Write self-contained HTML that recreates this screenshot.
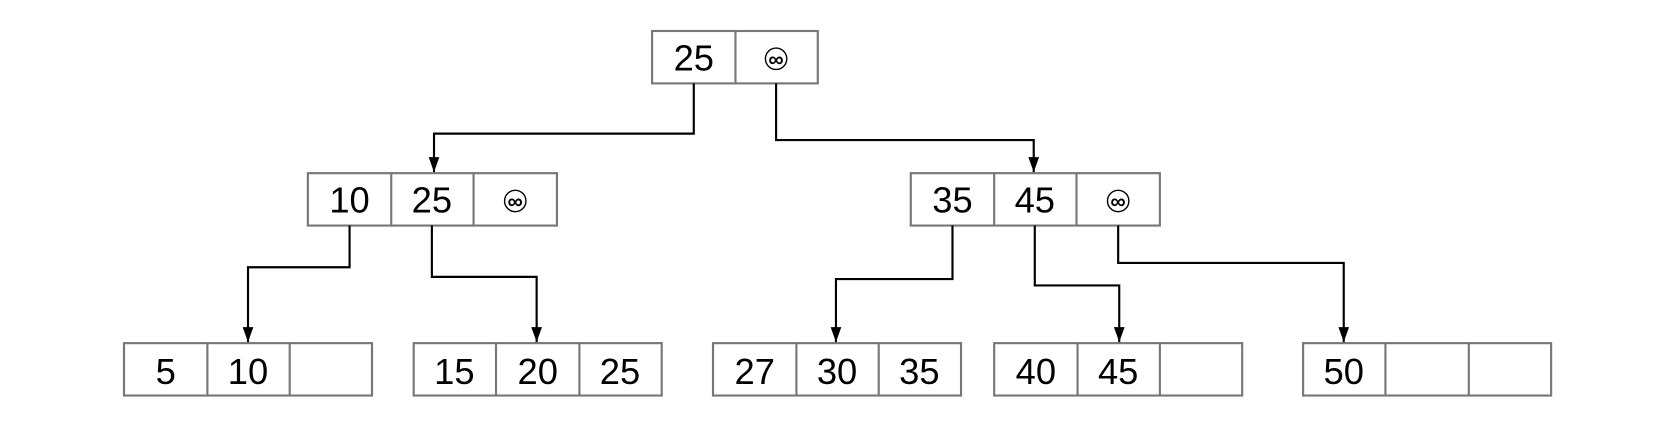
<!DOCTYPE html>
<html><head><style>
body{margin:0;width:1676px;height:436px;background:#fff;overflow:hidden}
</style></head><body>
<svg width="1676" height="436" xmlns="http://www.w3.org/2000/svg" font-family="Liberation Sans, sans-serif">
<defs>
<marker id="b" viewBox="0 0 10 14" markerWidth="10" markerHeight="14" refX="5" refY="14" orient="0" markerUnits="userSpaceOnUse"><path d="M0,0 L10,0 L5,14 Z" fill="#000"/></marker></defs>
<g transform="scale(1.069)">
<g fill="#fff" stroke="#777" stroke-width="2">
<rect x="610" y="29" width="155" height="49"/><line x1="688" y1="29" x2="688" y2="78"/>
<rect x="288" y="162" width="233" height="49"/><line x1="366" y1="162" x2="366" y2="211"/><line x1="443" y1="162" x2="443" y2="211"/>
<rect x="852" y="162" width="233" height="49"/><line x1="930" y1="162" x2="930" y2="211"/><line x1="1007" y1="162" x2="1007" y2="211"/>
<rect x="116" y="321" width="232" height="49"/><line x1="194" y1="321" x2="194" y2="370"/><line x1="271" y1="321" x2="271" y2="370"/>
<rect x="387" y="321" width="232" height="49"/><line x1="464" y1="321" x2="464" y2="370"/><line x1="542" y1="321" x2="542" y2="370"/>
<rect x="667" y="321" width="232" height="49"/><line x1="745" y1="321" x2="745" y2="370"/><line x1="822" y1="321" x2="822" y2="370"/>
<rect x="930" y="321" width="232" height="49"/><line x1="1008" y1="321" x2="1008" y2="370"/><line x1="1085" y1="321" x2="1085" y2="370"/>
<rect x="1219" y="321" width="232" height="49"/><line x1="1296" y1="321" x2="1296" y2="370"/><line x1="1374" y1="321" x2="1374" y2="370"/>
</g>
<g fill="none" stroke="#000" stroke-width="2" marker-end="url(#b)">
<polyline points="649,78 649,125 406,125 406,161"/>
<polyline points="726,78 726,131 967,131 967,161"/>
<polyline points="327,211 327,250 232,250 232,320"/>
<polyline points="404,211 404,259 502,259 502,320"/>
<polyline points="891,211 891,261 782,261 782,320"/>
<polyline points="968,211 968,267 1047,267 1047,320"/>
<polyline points="1046,211 1046,246 1257,246 1257,320"/>
</g>
<g font-size="34" text-anchor="middle" fill="#000">
<text x="649" y="66">25</text>
<text x="327" y="199">10</text><text x="404" y="199">25</text>
<text x="891" y="199">35</text><text x="968" y="199">45</text>
<text x="155" y="359">5</text><text x="232" y="359">10</text>
<text x="425" y="359">15</text><text x="503" y="359">20</text><text x="580" y="359">25</text>
<text x="706" y="359">27</text><text x="783" y="359">30</text><text x="860" y="359">35</text>
<text x="969" y="359">40</text><text x="1046" y="359">45</text>
<text x="1257" y="359">50</text>
</g>
<g fill="none" stroke="#000" stroke-width="1.3">
<circle cx="726" cy="55" r="10"/><circle cx="482" cy="188" r="10"/><circle cx="1046" cy="188" r="10"/>
</g>
<g font-size="20" text-anchor="middle" fill="#000" font-weight="bold">
<text x="726" y="62">∞</text><text x="482" y="195">∞</text><text x="1046" y="195">∞</text>
</g>
</g>
</svg>
</body></html>
